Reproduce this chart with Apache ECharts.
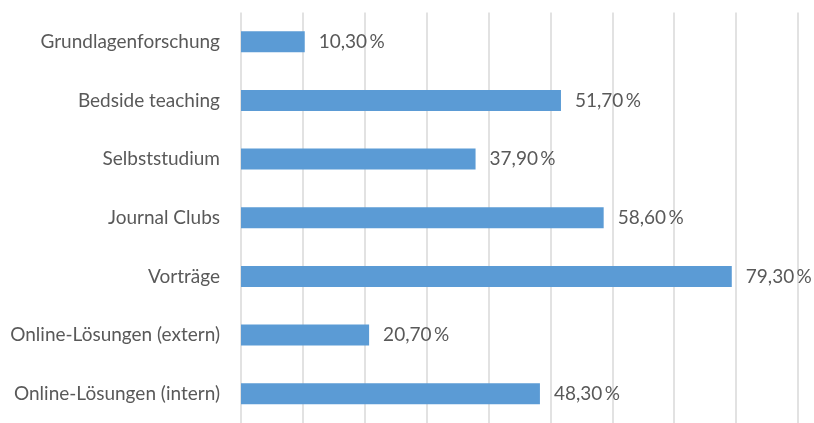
<!DOCTYPE html>
<html>
<head>
<meta charset="utf-8">
<script src="https://cdn.jsdelivr.net/npm/echarts@6/dist/echarts.min.js"></script>
<style>
  html, body { margin: 0; padding: 0; background: #ffffff; }
  #chart { width: 814px; height: 423px; }
</style>
</head>
<body>
<div id="chart"></div>
<script>
// Categories listed top to bottom
const categories = [
  'Grundlagenforschung',
  'Bedside teaching',
  'Selbststudium',
  'Journal Clubs',
  'Vorträge',
  'Online-Lösungen (extern)',
  'Online-Lösungen (intern)'
];
// Share in percent, same order as categories
const shares = [10.3, 51.7, 37.9, 58.6, 79.3, 20.7, 48.3];

const axisMin = 0;
const axisMax = 90;
const axisStep = 10;

const fmt = v => v.toFixed(2).replace('.', ',') + '\u2009%';

const chart = echarts.init(document.getElementById('chart'));
chart.setOption({
  animation: false,
  textStyle: { fontFamily: 'Lato, "Open Sans", sans-serif' },
  grid: { left: 241, width: 557, top: 12.5, height: 415, containLabel: false },
  xAxis: {
    type: 'value',
    min: axisMin,
    max: axisMax,
    interval: axisStep,
    axisLabel: { show: false },
    axisLine: { show: false },
    axisTick: { show: false },
    splitLine: { show: true, lineStyle: { color: '#d9d9d9', width: 1.5 } }
  },
  yAxis: {
    type: 'category',
    inverse: true,
    data: categories,
    axisLine: { show: false },
    axisTick: { show: false },
    axisLabel: { color: '#595959', fontSize: 19, margin: 21 }
  },
  series: [{
    type: 'bar',
    data: shares,
    barWidth: 21,
    itemStyle: { color: '#5b9bd5' },
    label: {
      show: true,
      position: 'right',
      distance: 14,
      color: '#595959',
      fontSize: 19,
      formatter: p => fmt(p.value)
    }
  }]
});
</script>
</body>
</html>
